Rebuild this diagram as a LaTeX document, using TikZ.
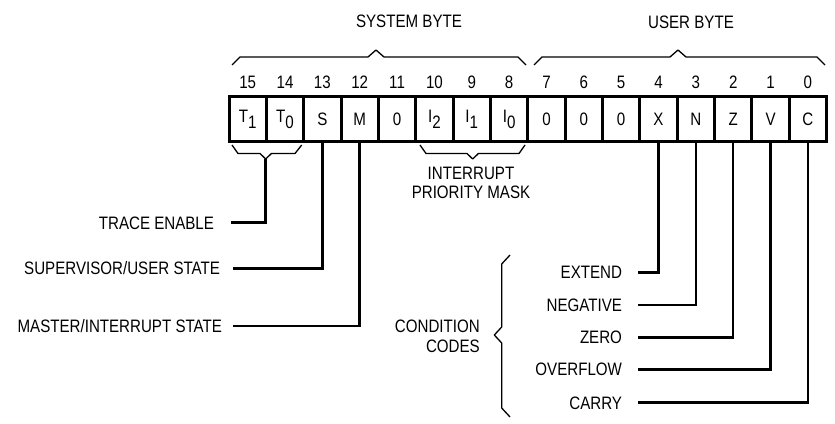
\documentclass[tikz,border=0pt]{standalone}
\usepackage{fontspec}
\setmainfont{Liberation Sans}[FakeStretch=0.84]
\newcommand\subdrop[1]{\raisebox{-6pt}{#1}}
\begin{document}
\begin{tikzpicture}[x=1pt,y=-1pt,
  every node/.style={font=\fontsize{18}{19.5}\selectfont},
  cell/.style={draw,line width=3pt,minimum width=37.35pt,minimum height=44.5pt,inner sep=0pt},
  bitnum/.style={inner sep=0pt},
  lab/.style={inner xsep=0pt,inner ysep=0pt,text height=13pt,text depth=0pt},
  conn/.style={line width=2.5pt},
  brace/.style={line width=1.3pt,line join=round}]
\useasboundingbox (0,0) rectangle (835,423);
% cells
\foreach \b/\t [count=\i from 0] in {15/{T\subdrop{1}},14/{T\subdrop{0}},13/S,12/M,11/0,10/{I\subdrop{2}},9/{I\subdrop{1}},8/{I\subdrop{0}},7/0,6/0,5/0,4/X,3/N,2/Z,1/V,0/C}{
  \node[cell] (c\b) at ({229+(\i+0.5)*37.35},119) {\t};
  \node[bitnum] (n\b) at ({229+(\i+0.5)*37.35},82) {\b};
}
% titles
\node (sys) at (409,21) {SYSTEM BYTE};
\node (usr) at (691,22) {USER BYTE};
% top braces
\draw[brace] (232,65) -- (240,57) -- (368,57) -- (376,50) -- (384,57) -- (518,57) -- (526,65);
\draw[brace] (534,65) -- (542,57) -- (670,57) -- (678,50) -- (686,57) -- (817,57) -- (825,65);
% bottom braces
\draw[brace] (232,145) -- (238,153.5) -- (260,153.5) -- (265.7,159) -- (271.4,153.5) -- (295,153.5) -- (301.7,145);
\coordinate (tb) at (265.7,159);
\draw[brace] (420,145) -- (426,153.5) -- (467,153.5) -- (472.7,159) -- (478.4,153.5) -- (519,153.5) -- (525,145);
\node[align=center,inner sep=0pt] (ipm) at (471,183) {INTERRUPT\\PRIORITY MASK};
% left labels
\node[lab,anchor=east,outer xsep=17pt,outer ysep=0pt] (trace) at (231,222.7) {TRACE ENABLE};
\node[lab,anchor=east,outer xsep=13pt,outer ysep=0pt] (sup) at (233,268.3) {SUPERVISOR/USER STATE};
\node[lab,anchor=east,outer xsep=11pt,outer ysep=0pt] (mast) at (233,326) {MASTER/INTERRUPT STATE};
\draw[conn] (tb) |- (trace.east);
\draw[conn] (c13.south) |- (sup.east);
\draw[conn] (c12.south) |- (mast.east);
% condition codes
\foreach \n/\t/\y/\c in {ext/EXTEND/272.3/4,neg/NEGATIVE/305/3,zer/ZERO/337.3/2,ovf/OVERFLOW/369.3/1,car/CARRY/402.7/0}{
  \node[lab,anchor=east,outer xsep=16pt,outer ysep=0pt] (\n) at (638,\y) {\t};
  \draw[conn] (c\c.south) |- (\n.east);
}
\node[align=right,anchor=east,inner sep=0pt] (cc) at (480,336.5) {CONDITION\\CODES};
\draw[brace] (510,255) -- (501.7,264) -- (501.7,327) -- (494.3,335) -- (501.7,343) -- (501.7,408) -- (510,417);
\end{tikzpicture}
\end{document}
